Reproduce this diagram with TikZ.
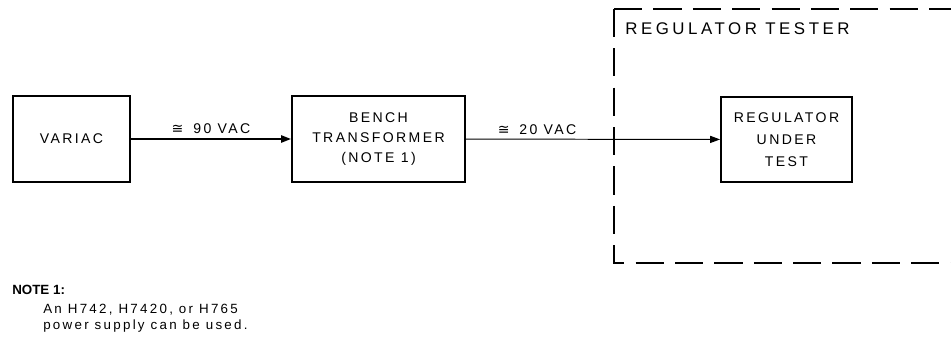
\documentclass[tikz,border=0pt]{standalone}
\usepackage{fontspec}
\setmainfont{Liberation Sans}
\newfontfamily\blkfont[LetterSpace=17]{Liberation Sans}
\newfontfamily\titlefont[LetterSpace=21]{Liberation Sans}
\newfontfamily\notefont[LetterSpace=17]{Liberation Sans}
\newfontfamily\symfont{DejaVu Sans}
\usepackage{tikz}
\usetikzlibrary{arrows.meta}
\newcommand{\approxeq}{{\symfont ≅}\hspace{0.7em}}
\tikzset{
	tri/.tip={Triangle[length=7pt, width=5pt]},
	% blocks and their texts
	blk/.style={draw, line width=1.3pt, align=center, inner sep=0pt,
		font=\blkfont\fontsize{10}{14.5}\selectfont},
	lbl/.style={font=\blkfont\fontsize{10}{11}\selectfont, inner sep=3pt},
	tester/.style={line width=2pt, dash pattern=on 20pt off 8pt},
	notes/.style={font=\notefont\fontsize{9.5}{10.8}\selectfont, inner sep=0pt},
}

\begin{document}
\begin{tikzpicture}[x=0.025cm, y=-0.025cm]
		\useasboundingbox (0,0) rectangle (951,341);
		% Blocks
		\node[blk, minimum width=2.925cm, minimum height=2.15cm] (variac) at (71.5,139) {VARIAC};
		\node[blk, minimum width=4.325cm, minimum height=2.15cm] (bench) at (378.5,139) {BENCH\\TRANSFORMER\\(NOTE 1)};
		\node[blk, minimum width=3.275cm, minimum height=2.125cm, font=\blkfont\fontsize{10}{15.6}\selectfont] (reg) at (786.5,139.5) {REGULATOR\\UNDER\\TEST};
		
		% Regulator tester (open to the right)
		\coordinate (tl) at (614,9);
		\coordinate (tr) at (951,9);
		\coordinate (bl) at (614,263);
		\coordinate (br) at (951,263);
		\draw[tester] (tl) -- (tr);
		\draw[tester] (tl) -- (bl) -- (br);
		\node[anchor=base west, font=\titlefont\fontsize{12}{14}\selectfont, inner sep=0pt] (tester) at (625,35) {REGULATOR TESTER};
		
		% Connectors
		\draw[-tri, line width=1.4pt] (variac) -- (bench) node[lbl, midway, above] (vac90) {\approxeq 90 VAC};
		\draw[-tri, line width=0.7pt] (bench) -- (reg) node[lbl, pos=0.28, above] (vac20) {\approxeq 20 VAC};
		
		% Note
		\node[anchor=base west, inner sep=0pt, font=\bfseries\fontsize{9.5}{10}\selectfont] (note) at (12,294) {NOTE 1:};
		\node[notes, anchor=base west, align=left] (notetext) at (43,329) {An H742, H7420, or H765\\power supply can be used.};
	\end{tikzpicture}
\end{document}
